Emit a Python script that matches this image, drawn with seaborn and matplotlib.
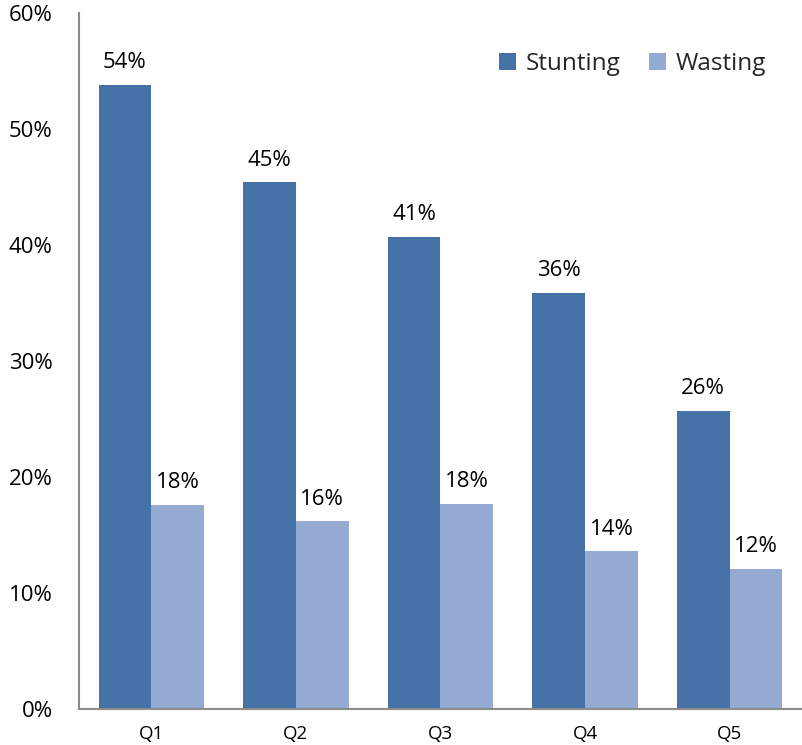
import matplotlib
matplotlib.use("Agg")
import matplotlib.pyplot as plt
import seaborn as sns
import pandas as pd

# Prevalence by wealth quintile (percent)
quintiles = ["Q1", "Q2", "Q3", "Q4", "Q5"]
stunting = [53.8, 45.4, 40.7, 35.9, 25.7]
wasting = [17.6, 16.2, 17.7, 13.6, 12.1]
y_ticks = [0, 10, 20, 30, 40, 50, 60]

series_names = ["Stunting", "Wasting"]
series_colors = ["#4672A8", "#95AAD2"]

df = pd.DataFrame({
    "quintile": quintiles * 2,
    "value": stunting + wasting,
    "indicator": [series_names[0]] * len(quintiles) + [series_names[1]] * len(quintiles),
})

sns.set_theme(style="white")
plt.rcParams["font.family"] = ["Open Sans", "DejaVu Sans"]

fig = plt.figure(figsize=(8.02, 7.45), dpi=100)
ax = fig.add_axes([0.0985, 0.048, 0.9015, 0.9345])

sns.barplot(
    data=df, x="quintile", y="value", hue="indicator",
    order=quintiles, hue_order=series_names,
    palette=series_colors, width=0.73, saturation=1,
    edgecolor="none", linewidth=0, ax=ax,
)

# value labels above each bar
for container in ax.containers:
    for bar in container:
        h = bar.get_height()
        ax.annotate(
            f"{h:.0f}%",
            xy=(bar.get_x() + bar.get_width() / 2, h),
            xytext=(0, 12), textcoords="offset points",
            ha="center", va="baseline", fontsize=16, color="black",
        )

ax.set_xlim(-0.5, len(quintiles) - 0.5)
ax.set_ylim(0, 60)
ax.set_yticks(y_ticks)
ax.set_yticklabels([f"{t}%" for t in y_ticks])
ax.set_xlabel("")
ax.set_ylabel("")
ax.tick_params(axis="y", length=0, pad=19, labelsize=16, labelcolor="black")
ax.tick_params(axis="x", length=0, pad=11, labelsize=13.5, labelcolor="black")

for side in ["top", "right"]:
    ax.spines[side].set_visible(False)
for side in ["left", "bottom"]:
    ax.spines[side].set_color("#8C8C8C")
    ax.spines[side].set_linewidth(1.5)

ax.legend(
    title=None, ncol=2, frameon=False, loc="upper right",
    bbox_to_anchor=(0.981, 0.975), fontsize=17.5,
    handlelength=0.7, handleheight=0.7, handletextpad=0.4,
    columnspacing=1.2,
)

fig.savefig("out.png", dpi=100)
